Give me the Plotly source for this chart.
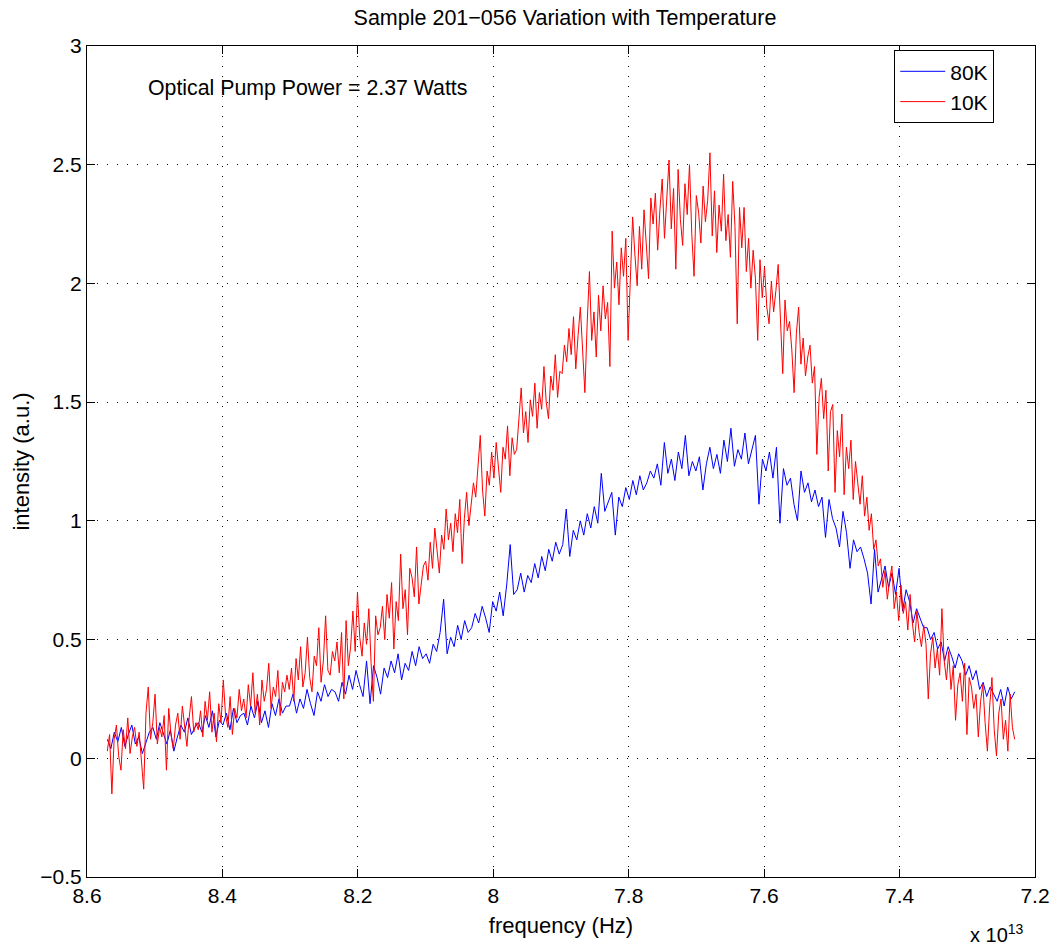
import numpy as np
import plotly.graph_objects as go

# frequency range of each scan, in units of 1e13 Hz
f_start, f_end = 8.57, 7.23

intensity_80K = [
    0.08, 0.04, 0.11, 0.07, 0.13, 0.05, 0.10, 0.14, 0.06, 0.09, 0.02, 0.07, 0.11,
    0.13, 0.08, 0.15, 0.10, 0.06, 0.12, 0.03, 0.09, 0.14, 0.11, 0.17, 0.10, 0.13,
    0.15, 0.11, 0.18, 0.13, 0.20, 0.09, 0.16, 0.14, 0.19, 0.12, 0.21, 0.15, 0.18,
    0.19, 0.14, 0.22, 0.17, 0.24, 0.15, 0.20, 0.13, 0.23, 0.18, 0.25, 0.19, 0.22,
    0.22, 0.27, 0.19, 0.25, 0.21, 0.29, 0.23, 0.18, 0.28, 0.24, 0.31, 0.26, 0.29,
    0.28, 0.24, 0.32, 0.27, 0.35, 0.29, 0.37, 0.31, 0.26, 0.41, 0.23, 0.39, 0.34,
    0.27, 0.38, 0.34, 0.41, 0.36, 0.44, 0.33, 0.40, 0.37, 0.45, 0.39, 0.47, 0.42,
    0.44, 0.40, 0.48, 0.45, 0.53, 0.67, 0.44, 0.51, 0.47, 0.56, 0.50, 0.58, 0.53,
    0.55, 0.61, 0.57, 0.64, 0.59, 0.53, 0.66, 0.62, 0.70, 0.60, 0.73, 0.90, 0.69,
    0.71, 0.78, 0.70, 0.77, 0.74, 0.82, 0.76, 0.85, 0.79, 0.88, 0.83, 0.91, 0.86,
    0.90, 1.05, 0.85, 0.96, 0.92, 1.00, 0.94, 1.03, 0.97, 1.06, 0.99, 1.20, 1.04,
    1.08, 1.12, 0.94, 1.10, 1.06, 1.14, 1.09, 1.17, 1.11, 1.19, 1.13, 1.16, 1.21,
    1.18, 1.24, 1.15, 1.33, 1.20, 1.26, 1.17, 1.29, 1.22, 1.36, 1.19, 1.25, 1.21,
    1.27, 1.13, 1.24, 1.31, 1.22, 1.28, 1.20, 1.34, 1.25, 1.39, 1.23, 1.30, 1.26,
    1.37, 1.24, 1.30, 1.36, 1.07, 1.26, 1.21, 1.29, 1.18, 1.31, 0.99, 1.22, 1.15,
    1.18, 1.07, 1.00, 1.21, 1.12, 1.16, 1.08, 1.13, 1.06, 1.10, 0.93, 1.09, 1.01,
    0.97, 0.89, 1.04, 0.95, 0.80, 0.92, 0.87, 0.89, 0.84, 0.78, 0.65, 0.88, 0.70,
    0.76, 0.81, 0.72, 0.78, 0.69, 0.80, 0.62, 0.71, 0.66, 0.57, 0.63, 0.59, 0.55,
    0.55, 0.50, 0.53, 0.46, 0.49, 0.41, 0.47, 0.43, 0.38, 0.44, 0.41, 0.35, 0.39,
    0.33, 0.37, 0.29, 0.32, 0.26, 0.30, 0.27, 0.24, 0.29, 0.22, 0.30, 0.25, 0.28,
]

intensity_10K = [
    0.03, 0.10, -0.15, 0.08, 0.14, 0.01, -0.05, 0.12, 0.04, 0.17, 0.02, 0.09, 0.13, 0.05, 0.11, -0.01, -0.13, 0.19, 0.30, 0.08,
    0.15, 0.27, 0.06, 0.13, 0.09, 0.18, -0.05, 0.21, 0.10, 0.04, 0.14, 0.19, 0.08, 0.22, 0.12, 0.05, 0.17, 0.26, 0.11, 0.15,
    0.12, 0.20, 0.09, 0.24, 0.16, 0.28, 0.11, 0.19, 0.07, 0.23, 0.15, 0.33, 0.18, 0.13, 0.26, 0.10, 0.21, 0.17, 0.29, 0.20,
    0.25, 0.17, 0.31, 0.22, 0.36, 0.19, 0.27, 0.14, 0.33, 0.24, 0.29, 0.40, 0.21, 0.30, 0.26, 0.37, 0.18, 0.32, 0.28, 0.35,
    0.29, 0.38, 0.24, 0.42, 0.33, 0.47, 0.30, 0.36, 0.51, 0.34, 0.28, 0.43, 0.39, 0.55, 0.32, 0.41, 0.60, 0.37, 0.35, 0.45,
    0.41, 0.49, 0.36, 0.53, 0.25, 0.58, 0.39, 0.47, 0.62, 0.45, 0.70, 0.51, 0.43, 0.57, 0.48, 0.63, 0.40, 0.24, 0.60, 0.52,
    0.55, 0.64, 0.50, 0.69, 0.59, 0.74, 0.46, 0.66, 0.58, 0.86, 0.63, 0.71, 0.52, 0.80, 0.76, 0.68, 0.89, 0.65, 0.73, 0.81,
    0.83, 0.75, 0.91, 0.80, 0.97, 0.86, 0.78, 0.94, 0.88, 1.05, 0.92, 0.99, 0.87, 1.03, 0.95, 1.09, 0.82, 1.01, 1.12, 0.98,
    1.07, 1.16, 1.10, 1.24, 1.36, 1.13, 1.02, 1.21, 1.15, 1.29, 1.18, 1.33, 1.22, 1.12, 1.31, 1.26, 1.40, 1.19, 1.35, 1.28,
    1.30, 1.42, 1.56, 1.37, 1.46, 1.33, 1.51, 1.44, 1.58, 1.39, 1.54, 1.47, 1.65, 1.50, 1.43, 1.61, 1.55, 1.70, 1.52, 1.63,
    1.62, 1.74, 1.67, 1.81, 1.70, 1.86, 1.64, 1.78, 1.90, 1.72, 1.54, 1.83, 2.05, 1.76, 1.88, 1.69, 1.95, 1.80, 1.99, 1.85,
    1.92, 1.65, 2.22, 1.98, 2.09, 1.91, 2.15, 2.03, 2.19, 1.76, 2.07, 2.28, 2.12, 1.99, 2.24, 2.06, 2.31, 2.14, 2.02, 2.36,
    2.25, 2.38, 2.14, 2.31, 2.44, 2.19, 2.35, 2.52, 2.23, 2.40, 2.06, 2.48, 2.27, 2.16, 2.42, 2.29, 2.50, 2.21, 2.03, 2.37,
    2.30, 2.17, 2.41, 2.26, 2.35, 2.55, 2.20, 2.39, 2.13, 2.33, 2.22, 2.46, 2.18, 2.29, 2.11, 2.43, 2.24, 1.83, 2.32, 2.15,
    2.32, 2.05, 2.19, 1.98, 2.14, 2.02, 1.76, 2.10, 1.94, 2.07, 1.90, 1.83, 2.01, 1.88, 1.97, 2.08, 1.85, 1.62, 1.93, 1.80,
    1.84, 1.72, 1.54, 1.79, 1.90, 1.66, 1.77, 1.61, 1.69, 1.74, 1.58, 1.65, 1.28, 1.52, 1.60, 1.43, 1.55, 1.21, 1.46, 1.49,
    1.12, 1.38, 1.27, 1.45, 1.11, 1.31, 1.22, 1.34, 1.09, 1.25, 1.16, 1.07, 1.19, 1.02, 1.10, 0.96, 1.03, 0.88, 0.92, 0.81,
    0.84, 0.72, 0.79, 0.67, 0.75, 0.81, 0.63, 0.70, 0.58, 0.73, 0.61, 0.66, 0.54, 0.69, 0.57, 0.49, 0.62, 0.53, 0.47, 0.56,
    0.48, 0.25, 0.44, 0.51, 0.38, 0.46, 0.35, 0.63, 0.41, 0.33, 0.45, 0.29, 0.39, 0.16, 0.31, 0.36, 0.24, 0.40, 0.10, 0.34,
    0.30, 0.21, 0.27, 0.09, 0.24, 0.31, 0.15, 0.03, 0.22, 0.34, 0.12, 0.01, 0.19, 0.25, 0.08, 0.16, 0.03, 0.27, 0.13, 0.08,
]

freq_80K = np.linspace(f_start, f_end, len(intensity_80K))
freq_10K = np.linspace(f_start, f_end, len(intensity_10K))

FONT = "Liberation Sans, Arial, Helvetica, sans-serif"
TICK_SIZE = 21
LABEL_SIZE = 22

fig = go.Figure()
fig.add_trace(go.Scatter(x=freq_80K, y=intensity_80K, mode="lines", name="80K",
                         line=dict(color="#0000ff", width=1)))
fig.add_trace(go.Scatter(x=freq_10K, y=intensity_10K, mode="lines", name="10K",
                         line=dict(color="#ff0000", width=1)))

axis_common = dict(
    showline=True, linecolor="black", linewidth=1, mirror="ticks",
    ticks="inside", ticklen=8, tickcolor="black", tickwidth=1,
    showgrid=True, gridcolor="black", gridwidth=1, griddash="1px,9px",
    zeroline=False, tickfont=dict(family=FONT, size=TICK_SIZE, color="black"),
)

fig.update_xaxes(range=[8.6, 7.2], dtick=0.2, tick0=7.2,
                 title=dict(text="frequency (Hz)",
                            font=dict(family=FONT, size=LABEL_SIZE, color="black"), standoff=11),
                 **axis_common)
fig.update_yaxes(range=[-0.5, 3], dtick=0.5, tick0=0,
                 title=dict(text="intensity (a.u.)",
                            font=dict(family=FONT, size=LABEL_SIZE, color="black"), standoff=4),
                 **axis_common)

fig.update_layout(
    width=1062, height=947,
    margin=dict(l=87, r=19, t=46, b=70),
    paper_bgcolor="white", plot_bgcolor="white",
    font=dict(family=FONT, color="black"),
    title=dict(text="Sample 201\u2212056 Variation with Temperature",
               x=(87 + 1043) / 2 / 1062, xanchor="center",
               y=1 - 17 / 947, yanchor="middle", yref="container",
               font=dict(family=FONT, size=21.5, color="black")),
    legend=dict(x=0.957, y=0.995, xanchor="right", yanchor="top",
                bgcolor="white", bordercolor="black", borderwidth=1,
                font=dict(family=FONT, size=21, color="black"),
                tracegroupgap=0, itemwidth=45),
    showlegend=True,
)

fig.add_annotation(text="Optical Pump Power = 2.37 Watts", xref="paper", yref="paper",
                   x=(146 - 87) / 956, y=(877 - 88) / 831, xanchor="left", yanchor="middle",
                   showarrow=False, font=dict(family=FONT, size=21.3, color="black"))
fig.add_annotation(text="x 10<sup>13</sup>", xref="paper", yref="paper",
                   x=(1034 - 87) / 956, y=(877 - 933) / 831, xanchor="right", yanchor="middle",
                   showarrow=False, font=dict(family=FONT, size=20, color="black"))

fig.write_html("out.html", config={"displayModeBar": False})
